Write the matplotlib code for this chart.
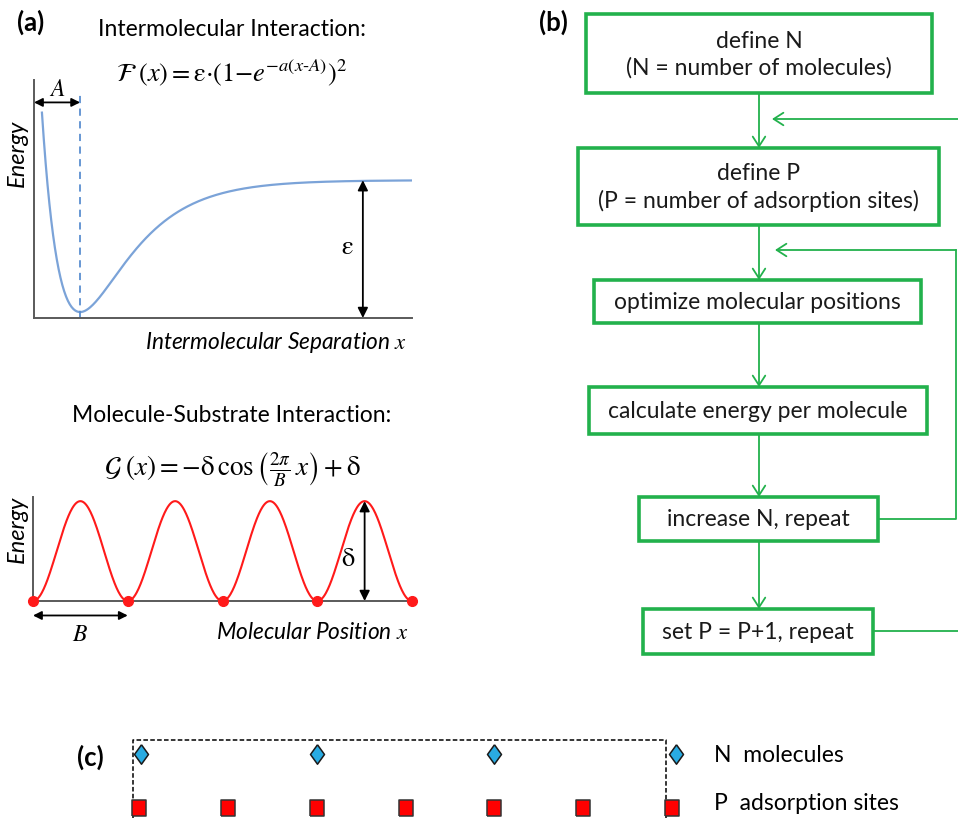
import numpy as np
import matplotlib
matplotlib.use("Agg")
import matplotlib.pyplot as plt
from matplotlib.patches import Rectangle

plt.rcParams['font.family'] = ['Lato', 'DejaVu Sans']
plt.rcParams['mathtext.fontset'] = 'stix'

# ---- data ----
# Morse-type intermolecular potential: F(x) = eps * (1 - exp(-a (x - A)))^2
morse_eps = 1.0
morse_a = 0.794
morse_A = 1.22
morse_x_start = 0.21
morse_x_end = 10.0

# substrate potential: G(x) = -delta cos(2 pi x / B) + delta
sub_delta = 1.0
sub_B = 1.0
sub_periods = 4

# flowchart steps (b)
steps = ["define N\n(N = number of molecules)",
         "define P\n(P = number of adsorption sites)",
         "optimize molecular positions",
         "calculate energy per molecule",
         "increase N, repeat",
         "set P = P+1, repeat"]

# panel (c): positions in units of the site spacing
site_x = [0, 1, 2, 3, 4, 5, 6]
mol_x = [0.02, 2.0, 4.0, 6.05]
cell_x = [-0.07, 5.93]

W, H = 958, 818
green = '#22b14c'
axis_gray = '#5a5a5a'
fs = 16.5
fs_panel = 18.5

fig = plt.figure(figsize=(W / 100, H / 100), dpi=100)


def box_axes(x0, y0, x1, y1):
    a = fig.add_axes([x0 / W, 1 - y1 / H, (x1 - x0) / W, (y1 - y0) / H])
    a.patch.set_alpha(0)
    return a


# overlay in pixel units for layout items (labels, flowchart)
ov = box_axes(0, 0, W, H)
ov.set_xlim(0, W)
ov.set_ylim(H, 0)
ov.axis('off')

# ---------------- (a) top: intermolecular interaction ----------------
ax1 = box_axes(34, 80, 412, 318)
ax1.set_xlim(0, 10)
ax1.set_ylim(-0.045, 1.76)
for s in ['top', 'right']:
    ax1.spines[s].set_visible(False)
for s in ['left', 'bottom']:
    ax1.spines[s].set_color(axis_gray)
    ax1.spines[s].set_linewidth(1.4)
ax1.set_xticks([])
ax1.set_yticks([])

xm = np.linspace(morse_x_start, morse_x_end, 400)
ym = morse_eps * (1 - np.exp(-morse_a * (xm - morse_A))) ** 2
ax1.plot(xm, ym, color='#7ba3d8', lw=1.6)
ax1.plot([morse_A, morse_A], [-0.045, 1.67], color='#5b8fd0', lw=1.3,
         ls=(0, (4, 3)))
ax1.annotate('', xy=(0, 1.59), xytext=(morse_A, 1.59),
             arrowprops=dict(arrowstyle='<|-|>,head_length=0.5,head_width=0.25',
                             color='black', lw=1.3, shrinkA=0, shrinkB=0),
             annotation_clip=False)
ax1.text(morse_A / 2, 1.61, '$A$', ha='center', va='bottom', fontsize=17)
ax1.annotate('', xy=(8.7, morse_eps), xytext=(8.7, -0.045),
             arrowprops=dict(arrowstyle='<|-|>,head_length=0.6,head_width=0.3',
                             color='black', lw=1.3, shrinkA=0, shrinkB=0))
ax1.text(8.45, 0.5, r'$\mathrm{\varepsilon}$', ha='right', va='center', fontsize=19)
ax1.set_ylabel('Energy', fontstyle='italic', fontsize=17)
ax1.yaxis.set_label_coords(-0.016, 0.69)
ax1.text(0.985, -0.105, 'Intermolecular Separation $x$', transform=ax1.transAxes,
         ha='right', va='center', fontstyle='italic', fontsize=16.3)

ov.text(232, 30, 'Intermolecular Interaction:', ha='center', va='center', fontsize=fs)
ov.text(232, 73, r'$\mathcal{F}\;(x) = \mathrm{\varepsilon}{\cdot}(1{-}e^{-a(x\text{-}A)})^2$',
        ha='center', va='center', fontsize=19)
ov.text(17, 22, '(a)', ha='left', va='center', fontsize=fs_panel, fontweight='bold')

# ---------------- (a) bottom: molecule-substrate interaction ----------------
ax2 = box_axes(33, 497, 412, 601)
ax2.set_xlim(0, sub_periods * sub_B)
ax2.set_ylim(0, 2.083 * sub_delta)
for s in ['top', 'right']:
    ax2.spines[s].set_visible(False)
for s in ['left', 'bottom']:
    ax2.spines[s].set_color(axis_gray)
    ax2.spines[s].set_linewidth(1.4)
ax2.set_xticks([])
ax2.set_yticks([])

xs = np.linspace(0, sub_periods * sub_B, 600)
ys = -sub_delta * np.cos(2 * np.pi * xs / sub_B) + sub_delta
ax2.plot(xs, ys, color='#ff1a1a', lw=1.5, clip_on=False)
minima = np.arange(sub_periods + 1) * sub_B
ax2.plot(minima, np.zeros_like(minima), 'o', color='#ff1a1a', ms=7, clip_on=False, zorder=5)
peak_x = (sub_periods - 0.5) * sub_B
ax2.annotate('', xy=(peak_x, 2 * sub_delta), xytext=(peak_x, 0),
             arrowprops=dict(arrowstyle='<|-|>,head_length=0.6,head_width=0.3',
                             color='black', lw=1.3, shrinkA=0, shrinkB=0))
ax2.text(peak_x - 0.1, 0.85, r'$\mathrm{\delta}$', ha='right', va='center', fontsize=19)
ax2.annotate('', xy=(0, -0.29), xytext=(sub_B, -0.29),
             arrowprops=dict(arrowstyle='<|-|>,head_length=0.5,head_width=0.25',
                             color='black', lw=1.3, shrinkA=0, shrinkB=0),
             annotation_clip=False)
ax2.text(sub_B / 2, -0.67, '$B$', ha='center', va='center', fontsize=17)
ax2.set_ylabel('Energy', fontstyle='italic', fontsize=17)
ax2.yaxis.set_label_coords(-0.013, 0.69)
ax2.text(0.99, -0.3, 'Molecular Position $x$', transform=ax2.transAxes,
         ha='right', va='center', fontstyle='italic', fontsize=16.3)

ov.text(232, 415, 'Molecule-Substrate Interaction:', ha='center', va='center', fontsize=fs)
ov.text(232, 470, r'$\mathcal{G}\;(x) = -\mathrm{\delta}\,\cos\left(\frac{2\pi}{B}\,x\right) + \mathrm{\delta}$',
        ha='center', va='center', fontsize=19.5)

# ---------------- (b) flowchart ----------------
ov.text(539, 22, '(b)', ha='left', va='center', fontsize=fs_panel, fontweight='bold')
boxes = [(586, 14, 932, 93), (578, 148, 939, 225), (594, 280, 921, 323),
         (589, 387, 927, 434), (639, 497, 878, 541), (643, 609, 873, 654)]
cx = 759
arrow_kw = dict(arrowstyle='->,head_length=0.7,head_width=0.45', color=green,
                lw=1.3, shrinkA=0, shrinkB=0)
for (x0, y0, x1, y1), label in zip(boxes, steps):
    ov.add_patch(Rectangle((x0, y0), x1 - x0, y1 - y0, fill=False,
                           edgecolor=green, lw=2.6))
    ov.text((x0 + x1) / 2, (y0 + y1) / 2 + 1, label, ha='center', va='center',
            fontsize=fs, linespacing=1.3, color='#1a1a1a')
for (_, _, _, yb), (_, yt, _, _) in zip(boxes[:-1], boxes[1:]):
    ov.annotate('', xy=(cx, yt), xytext=(cx, yb), arrowprops=arrow_kw)

# inner loop: increase N -> back to optimize
b5 = boxes[4]
ov.plot([b5[2], 956, 956], [519, 519, 250], color=green, lw=1.3)
ov.annotate('', xy=(775, 250), xytext=(956, 250), arrowprops=arrow_kw)
# outer loop: set P -> back to define P (runs off the right edge)
b6 = boxes[5]
ov.plot([b6[2], 962, 962], [631, 631, 119], color=green, lw=1.3, clip_on=False)
ov.annotate('', xy=(772, 119), xytext=(962, 119), arrowprops=arrow_kw,
            annotation_clip=False)

# ---------------- (c) molecules and adsorption sites ----------------
ax3 = box_axes(139, 754, 672, 808)
ax3.set_xlim(0, 6)
ax3.set_ylim(0, 1)
ax3.axis('off')
ax3.plot([cell_x[0], cell_x[0], cell_x[1], cell_x[1]], [-0.3, 1.26, 1.26, -0.3],
         color='black', lw=1.1, ls=(0, (3, 1.5)), clip_on=False)
diamond = [(0, 1), (0.72, 0), (0, -1), (-0.72, 0), (0, 1)]
rect = [(-0.82, -1), (0.82, -1), (0.82, 1), (-0.82, 1), (-0.82, -1)]
ax3.plot(mol_x, np.ones(len(mol_x)), linestyle='none', marker=diamond, ms=14,
         mfc='#29abe2', mec='#1a1a1a', mew=1.1, clip_on=False, zorder=5)
ax3.plot(site_x, np.zeros(len(site_x)), linestyle='none', marker=rect, ms=11.5,
         mfc='#ff0000', mec='#333333', mew=1.1, clip_on=False, zorder=5)

ov.text(77, 757, '(c)', ha='left', va='center', fontsize=fs_panel, fontweight='bold')
ov.text(714, 755, 'N  molecules', ha='left', va='center', fontsize=fs)
ov.text(714, 803, 'P  adsorption sites', ha='left', va='center', fontsize=fs)

fig.savefig('out.png', dpi=100, facecolor='white')
